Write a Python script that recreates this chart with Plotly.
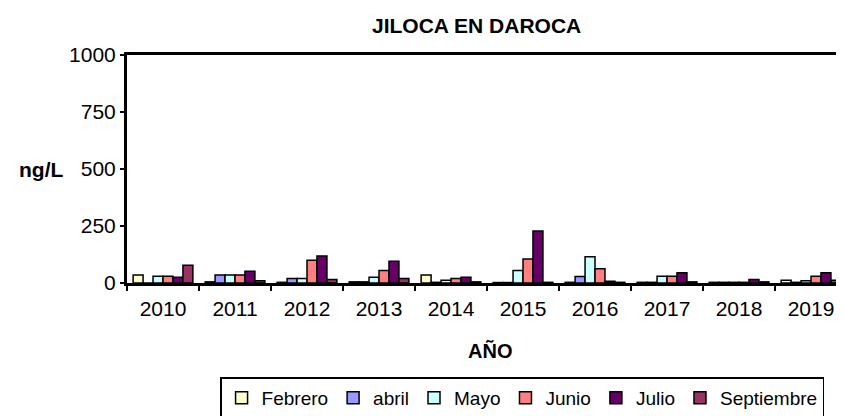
import plotly.graph_objects as go

years = ["2010", "2011", "2012", "2013", "2014", "2015", "2016", "2017", "2018", "2019"]
febrero    = [35, 5, 3, 5, 35, 2, 3, 3, 3, 12]
abril      = [0, 35, 20, 5, 3, 2, 28, 3, 3, 3]
mayo       = [30, 35, 20, 25, 12, 55, 115, 30, 3, 10]
junio      = [30, 35, 100, 55, 20, 105, 62, 30, 3, 30]
julio      = [25, 52, 118, 95, 25, 228, 8, 45, 15, 45]
septiembre = [78, 10, 15, 20, 5, 3, 3, 5, 5, 12]

series = [
    ("Febrero", febrero, "#FFFFCC"),
    ("abril", abril, "#9999FF"),
    ("Mayo", mayo, "#CCFFFF"),
    ("Junio", junio, "#FF8080"),
    ("Julio", julio, "#660066"),
    ("Septiembre", septiembre, "#993366"),
]

FONT = "Liberation Sans, Arial, sans-serif"

fig = go.Figure()
for name, vals, col in series:
    fig.add_trace(go.Bar(
        x=years, y=vals, name=name,
        marker=dict(color=col, line=dict(color="black", width=1.5)),
    ))

# page body has an 8px margin, so the figure is drawn 8px smaller
fig.update_layout(
    width=836, height=408,
    margin=dict(l=119, r=0, t=47, b=133, autoexpand=False),
    paper_bgcolor="white", plot_bgcolor="white",
    barmode="group", bargap=0.17, bargroupgap=0,
    font=dict(family=FONT, size=20, color="black"),
    showlegend=True,
    legend=dict(
        orientation="h", x=0.551, y=-0.504, xanchor="center", yanchor="middle",
        bordercolor="black", borderwidth=1.5, bgcolor="white",
        font=dict(family=FONT, size=19, color="black"),
        itemwidth=30, tracegroupgap=0,
    ),
    annotations=[
        dict(text="<b>JILOCA EN DAROCA</b>", xref="paper", yref="paper",
             x=0.488, y=1.0, yshift=30, yanchor="middle", showarrow=False,
             font=dict(family=FONT, size=21, color="black")),
        dict(text="<b>ng/L</b>", xref="paper", yref="paper",
             x=-0.12, y=0.5, xanchor="center", yanchor="middle", showarrow=False,
             font=dict(family=FONT, size=21, color="black")),
        dict(text="<b>AÑO</b>", xref="paper", yref="paper",
             x=0.506, y=-0.3, yanchor="middle", showarrow=False,
             font=dict(family=FONT, size=20, color="black")),
    ],
)

fig.update_xaxes(
    type="category", range=[-0.5, 9.458],
    showline=True, linecolor="black", linewidth=3, mirror=True,
    ticks="outside", tickson="boundaries", ticklen=5, tickwidth=2, tickcolor="black",
    ticklabelstandoff=5,
    showgrid=False, tickfont=dict(family=FONT, size=21, color="black"),
)
fig.update_yaxes(
    range=[0, 1000], tickvals=[0, 250, 500, 750, 1000],
    showline=True, linecolor="black", linewidth=3,
    ticks="outside", ticklen=4, tickwidth=2, tickcolor="black",
    showgrid=False, zeroline=False,
    tickfont=dict(family=FONT, size=21, color="black"),
)

fig.write_html("out.html")
